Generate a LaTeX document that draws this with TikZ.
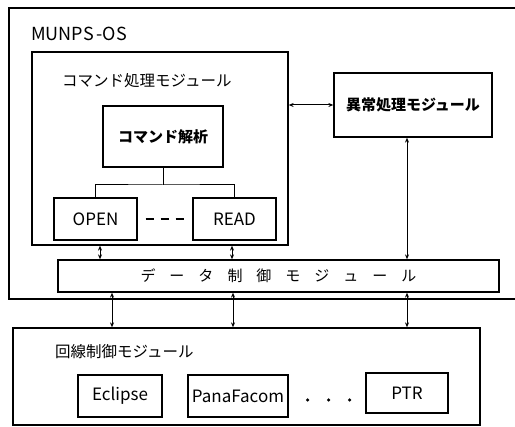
\documentclass[tikz,border=0pt]{standalone}
\usepackage{fontspec}
\setmainfont{Noto Sans CJK JP}
\usetikzlibrary{arrows.meta,calc}
\tikzset{
  box/.style={draw, line width=1.3pt, inner sep=0pt, align=center},
  conn/.style={line width=1pt},
  biarrow/.style={line width=1pt, {Stealth[length=5pt,width=4pt]}-{Stealth[length=5pt,width=4pt]}},
  ttl/.style={anchor=west, inner sep=0pt, font=\fontsize{15.5}{17}\selectfont},
  lat/.style={font=\fontsize{17}{19}\selectfont},
}
\begin{document}
\begin{tikzpicture}[x=1pt,y=-1pt]
\useasboundingbox (0,0) rectangle (515,427);
% outer MUNPS-OS frame (right side beyond the picture)
\draw[line width=1.3pt] (515,8) coordinate (osTR) -- (9,8) -- (9,299) -- (515,299) coordinate (osBR);
\node[anchor=west, inner sep=0pt, font=\fontsize{18}{20}\selectfont] (ostitle) at (31,34) {MUNPS\,-OS};
% command processing module
\node[box, minimum width=256pt, minimum height=193pt] (cmd) at (160,148.5) {};
\node[ttl] (cmdtitle) at (62,81) {コマンド処理モジュール};
\node[box, minimum width=120pt, minimum height=61pt, font=\fontsize{15}{17}\selectfont\bfseries] (parse) at (163,136.5) {コマンド解析};
\node[box, lat, minimum width=83pt, minimum height=42pt] (open) at (95.5,219) {OPEN};
\node[box, lat, minimum width=83pt, minimum height=42pt] (read) at (234.5,219) {READ};
\coordinate (tj) at (parse.south |- 0,185);
\draw[conn] (parse.south) -- (tj);
\draw[conn] (open.north) |- (tj) -| (read.north);
\draw[line width=2.2pt, dash pattern=on 8pt off 7pt, shorten <=8pt, shorten >=6pt] (open.east) -- (read.west);
% exception module
\node[box, minimum width=158pt, minimum height=64pt, font=\fontsize{15}{17}\selectfont\bfseries] (exc) at (413,105) {異常処理モジュール};
% data control module
\node[box, minimum width=441pt, minimum height=32pt, font=\fontsize{15}{17}\selectfont] (data) at (278.5,276)
  {デ\hspace{14pt}ー\hspace{14pt}タ\hspace{14pt}制\hspace{14pt}御\hspace{14pt}モ\hspace{14pt}ジ\hspace{14pt}ュ\hspace{14pt}ー\hspace{14pt}ル};
% line control module
\node[box, minimum width=467pt, minimum height=97pt] (line) at (246.5,376.5) {};
\node[ttl] (linetitle) at (55,352) {回線制御モジュール};
\node[box, lat, minimum width=84pt, minimum height=42pt] (ecl) at (120,396) {Eclipse};
\node[box, lat, minimum width=100pt, minimum height=42pt] (pana) at (238,396) {PanaFacom};
\node[box, lat, minimum width=82pt, minimum height=40pt] (ptr) at (407,393) {PTR};
\draw[line width=3.5pt, line cap=round, dash pattern=on 0pt off 21pt] ($(pana.east)+(19,4)$) coordinate (d1) -- ($(d1)+(44,0)$);
% connectors
\draw[biarrow] (exc.west -| cmd.east) -- (exc.west);
\draw[biarrow] ($(exc.south)+(-6,0)$) coordinate (ex) -- (ex |- data.north);
\draw[biarrow] (cmd.south -| 100,0) -- (data.north -| 100,0);
\draw[biarrow] (cmd.south -| 232,0) -- (data.north -| 232,0);
\draw[biarrow] (data.south -| 112,0) -- (line.north -| 112,0);
\draw[biarrow] (data.south -| 233,0) -- (line.north -| 233,0);
\draw[biarrow] (data.south -| 407,0) -- (line.north -| 407,0);
\end{tikzpicture}
\end{document}
